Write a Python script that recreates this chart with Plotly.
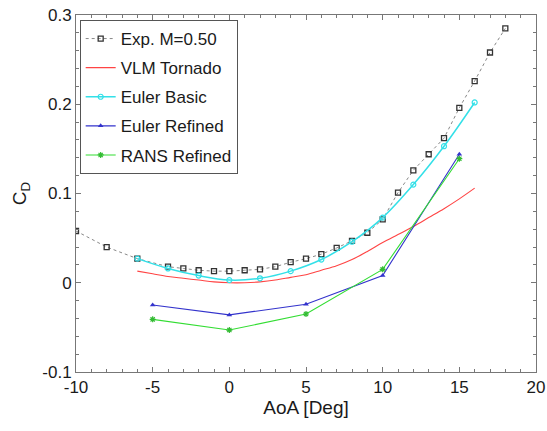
import plotly.graph_objects as go

exp_aoa = [-10, -8, -6, -4, -3, -2, -1, 0, 1, 2, 3, 4, 5, 6, 7, 8, 9, 10, 11, 12, 13, 14, 15, 16, 17, 18]
exp_cd = [0.058, 0.040, 0.027, 0.018, 0.016, 0.014, 0.013, 0.013, 0.014, 0.015, 0.018, 0.023, 0.027,
          0.032, 0.039, 0.047, 0.056, 0.071, 0.101, 0.126, 0.144, 0.162, 0.196, 0.226, 0.258, 0.285]

vlm_aoa = [-6, -5, -4, -3, -2, -1, 0, 1, 2, 3, 4, 5, 6, 7, 8, 9, 10, 11, 12, 13, 14, 15, 16]
vlm_cd = [0.013, 0.010, 0.007, 0.005, 0.003, 0.001, 0.000, 0.000, 0.001, 0.003, 0.006, 0.009,
          0.014, 0.019, 0.026, 0.035, 0.045, 0.054, 0.063, 0.073, 0.083, 0.094, 0.106]

eb_aoa = [-6, -4, -2, 0, 2, 4, 6, 8, 10, 12, 14, 16]
eb_cd = [0.027, 0.016, 0.008, 0.003, 0.005, 0.013, 0.026, 0.046, 0.073, 0.110, 0.153, 0.202]

er_aoa = [-5, 0, 5, 10, 15]
er_cd = [-0.025, -0.036, -0.024, 0.008, 0.144]

rr_aoa = [-5, 0, 5, 10, 15]
rr_cd = [-0.041, -0.053, -0.035, 0.015, 0.139]

x_ticks = [-10, -5, 0, 5, 10, 15, 20]
x_tick_labels = ["-10", "-5", "0", "5", "10", "15", "20"]
y_ticks = [-0.1, 0, 0.1, 0.2, 0.3]
y_tick_labels = ["-0.1", "0", "0.1", "0.2", "0.3"]

fig = go.Figure()
fig.add_trace(go.Scatter(x=exp_aoa, y=exp_cd, name="Exp. M=0.50", mode="lines+markers", legendgroup="a",
                         line=dict(color="#888888", dash="dot", width=1),
                         marker=dict(symbol="square-open", size=5, color="#333333", line=dict(width=1.3))))
fig.add_trace(go.Scatter(x=vlm_aoa, y=vlm_cd, name="VLM Tornado", mode="lines", legendgroup="b",
                         line=dict(color="#ff4444", width=1.1, shape="spline")))
fig.add_trace(go.Scatter(x=eb_aoa, y=eb_cd, name="Euler Basic", mode="lines+markers", legendgroup="c",
                         line=dict(color="#33e0e8", width=1.5, shape="spline"),
                         marker=dict(symbol="circle-open", size=5, color="#33e0e8", line=dict(width=1.2))))
fig.add_trace(go.Scatter(x=er_aoa, y=er_cd, name="Euler Refined", mode="lines+markers", legendgroup="d",
                         line=dict(color="#3333cc", width=1.1),
                         marker=dict(symbol="triangle-up", size=5, color="#3333cc")))
fig.add_trace(go.Scatter(x=rr_aoa, y=rr_cd, name="RANS Refined", mode="lines+markers", legendgroup="e",
                         line=dict(color="#33dd33", width=1.1),
                         marker=dict(symbol="asterisk-open", size=5, color="#33bb33", line=dict(width=1.2, color="#33bb33"))))

axis_common = dict(showgrid=False, zeroline=False, showline=True, linecolor="#777777", linewidth=1,
                   mirror="allticks", ticks="inside", ticklen=5, tickcolor="#777777", automargin=False,
                   tickfont=dict(size=17, color="#1a1a1a"))

fig.update_layout(
    width=547, height=431,
    margin=dict(l=76, r=11, t=15, b=59),
    paper_bgcolor="white", plot_bgcolor="white",
    font=dict(family="Liberation Sans, Arial, sans-serif", color="#1a1a1a"),
    xaxis=dict(range=[-10, 20], tickvals=x_ticks, ticktext=x_tick_labels,
               minor=dict(ticks="inside", dtick=1, tick0=-10, ticklen=3, tickcolor="#777777"),
               title=dict(text="AoA [Deg]", font=dict(size=19), standoff=2), **axis_common),
    yaxis=dict(range=[-0.1, 0.3], tickvals=y_ticks, ticktext=y_tick_labels,
               minor=dict(ticks="inside", dtick=0.02, tick0=-0.1, ticklen=3, tickcolor="#777777"),
               title=dict(text="C<sub>D</sub>", font=dict(size=19), standoff=10), **axis_common),
    legend=dict(x=0.008, y=0.986, xanchor="left", yanchor="top", bgcolor="white",
                bordercolor="#555555", borderwidth=1, font=dict(size=17, color="#1a1a1a"),
                tracegroupgap=4, itemwidth=30),
    showlegend=True,
)

fig.write_html("out.html", config={"displayModeBar": False},
               post_script="document.body.style.margin='0';")
